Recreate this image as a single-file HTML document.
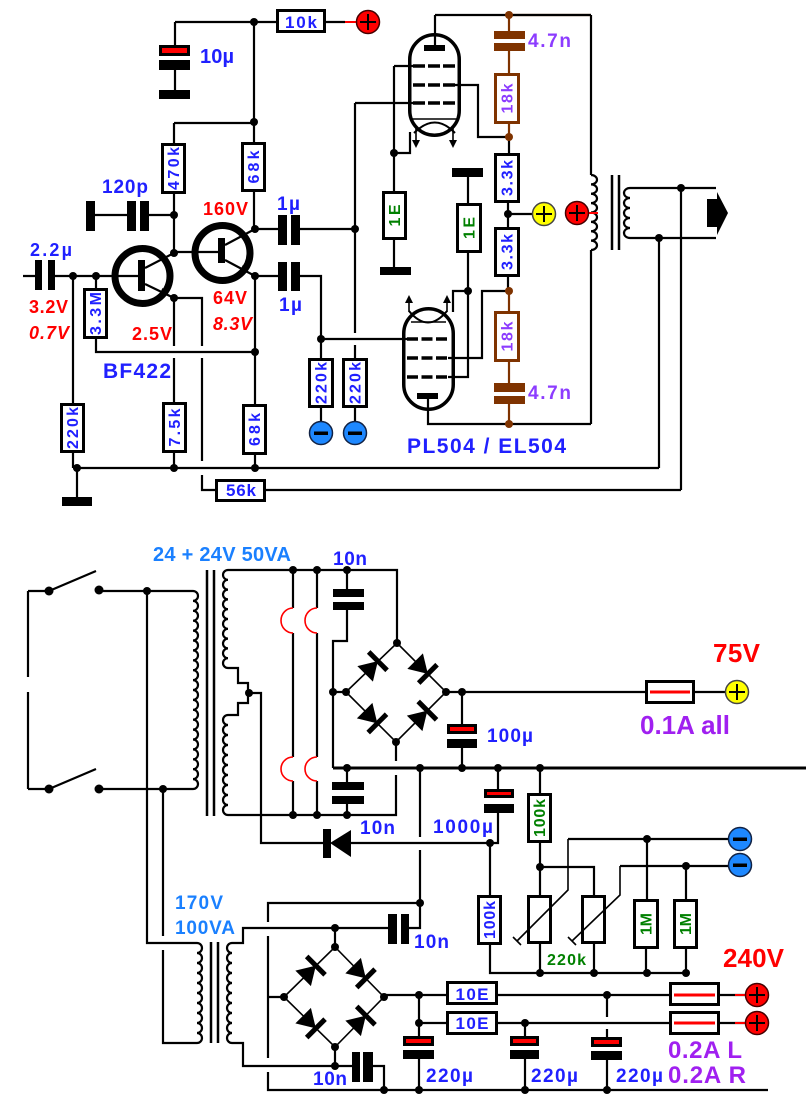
<!DOCTYPE html>
<html><head><meta charset="utf-8"><style>
html,body{margin:0;padding:0;background:#fff}
svg{display:block}
text{font-family:"Liberation Sans",sans-serif;font-weight:bold}
.w{stroke:#000;stroke-width:2.2;fill:none}
.t{stroke:#000;stroke-width:1.6;fill:none}
.k{stroke:#000;stroke-width:3;fill:none}
.r{fill:#fff;stroke:#000;stroke-width:3}
.rb{fill:#fff;stroke:#7f3300;stroke-width:3}
.br{stroke:#7f3300;stroke-width:2.2;fill:none}
.bl{fill:#2020ff}.rd{fill:#ff0000}.gr{fill:#008000}.pu{fill:#8c3cff}.pv{fill:#a020f0}.lb{fill:#1a80ff}
</style></head><body>
<svg width="806" height="1109" viewBox="0 0 806 1109" xmlns="http://www.w3.org/2000/svg">
<rect width="806" height="1109" fill="#fff"/>

<!-- ============ TOP HALF WIRES ============ -->
<path class="w" d="M175,22 H276 M326,22 H345 M175,22 V46 M175,70 V90 M254,22 V142 M174,123 H254 M174,123 V143 M174,194 V253 M95,215 H127 M149,215 H174 M254,192 V229 M254,229 H278 M300,229 H355 M355,103 V333 M355,345 V358 M355,103 H413"/>
<path d="M345,22 H357" stroke="#f00" stroke-width="2"/>
<!-- input -->
<path class="w" d="M23,276 H35 M55,276 H138 M73,276 V403 M73,453 V468 M77,468 V497 M73,468 H659 M96,276 V288 M96,339 V352 H255 M174,298 V346 M174,358 V402 M174,453 V468 M174,298 H202 V346 M202,358 V461 M202,475 V490 H215 M266,490 H681 M255,276 V404 M255,455 V468 M255,276 H278 M300,276 H321 V358 M321,339 H407"/>
<path class="w" d="M321,408 V421 M355,408 V421"/>
<!-- tubes wiring -->
<path class="w" d="M435,15 V45 M435,15 H509 M591,15 V175 M394,66 H413 M394,66 V191 M394,153 H410 V132 M394,240 V267 M455,85 H478 V137 H509 M468,177 V203 M468,253 V291 M509,137 V153 M508,203 V227 M508,214 H532 M508,277 V291 M448,358 H482 V291 H509 M448,377 H468 V291 M468,291 H453 V312 M428,399 V424 H591 M591,250 V424"/>
<path class="br" d="M509,15 H591 M509,15 V31 M509,51 V73 M509,124 V137 M509,291 V311 M509,362 V383 M509,404 V424"/>
<path class="w" d="M509,15 H591"/>
<!-- output transformer -->
<path class="w" d="M591,175 a6,4.6875 0 0 1 0,9.375 a6,4.6875 0 0 1 0,9.375 a6,4.6875 0 0 1 0,9.375 a6,4.6875 0 0 1 0,9.375 a6,4.6875 0 0 1 0,9.375 a6,4.6875 0 0 1 0,9.375 a6,4.6875 0 0 1 0,9.375 a6,4.6875 0 0 1 0,9.375"/>
<path d="M612,175 V250 M619,175 V250" stroke="#000" stroke-width="2.5"/>
<path class="w" d="M716,188 H630 a6,5 0 0 0 0,10 a6,5 0 0 0 0,10 a6,5 0 0 0 0,10 a6,5 0 0 0 0,10 a6,5 0 0 0 0,10 H716"/>
<path d="M589,213 H598" stroke="#f00" stroke-width="2"/>
<polygon points="707,199 717,199 717,192 728,213 717,235 717,227 707,227" fill="#000"/>
<path class="w" d="M681,188 V490 M659,238 V468"/>

<!-- transistors -->
<circle cx="142.5" cy="276" r="27.5" fill="none" stroke="#000" stroke-width="7"/>
<circle cx="222.5" cy="253" r="27.5" fill="none" stroke="#000" stroke-width="7"/>
<rect x="138" y="260" width="7" height="31" fill="#000"/>
<rect x="218" y="238" width="7" height="25" fill="#000"/>
<path class="w" d="M145,268 L174,253 M145,284 L174,298 M174,252 H218 M225,245 L255,229 M225,260 L255,276"/>
<polygon points="168,295 159.1,295.1 162.5,287.9" fill="#000"/>
<polygon points="248,272.3 239.1,272 242.9,265" fill="#000"/>

<!-- capacitors top -->
<rect x="160.5" y="46.5" width="28" height="8" fill="#f00" stroke="#000" stroke-width="3"/>
<rect x="159" y="60" width="31" height="10" fill="#000"/>
<rect x="159" y="90" width="31" height="9" fill="#000"/>
<rect x="86" y="201" width="9" height="30" fill="#000"/>
<rect x="127" y="201" width="9" height="30" fill="#000"/>
<rect x="140" y="201" width="9" height="30" fill="#000"/>
<rect x="278" y="215" width="9" height="30" fill="#000"/>
<rect x="291" y="215" width="9" height="30" fill="#000"/>
<rect x="278" y="262" width="9" height="29" fill="#000"/>
<rect x="291" y="262" width="9" height="29" fill="#000"/>
<rect x="35" y="260" width="7" height="30" fill="#000"/>
<rect x="48" y="260" width="7" height="30" fill="#000"/>
<rect x="62" y="497" width="30" height="9" fill="#000"/>
<rect x="380" y="267" width="31" height="8" fill="#000"/>
<rect x="452" y="168" width="31" height="9" fill="#000"/>
<rect x="494" y="31" width="31" height="8" fill="#7f3300"/>
<rect x="494" y="43" width="31" height="8" fill="#7f3300"/>
<rect x="494" y="383" width="31" height="9" fill="#7f3300"/>
<rect x="494" y="396" width="31" height="8" fill="#7f3300"/>

<!-- resistors top -->
<rect class="r" x="277.5" y="10.5" width="47" height="21"/>
<rect class="r" x="162.5" y="144.5" width="22" height="48"/>
<rect class="r" x="242.5" y="143.5" width="22" height="47"/>
<rect class="r" x="61.5" y="404.5" width="22" height="47"/>
<rect class="r" x="84.5" y="289.5" width="22" height="48"/>
<rect class="r" x="163.5" y="403.5" width="22" height="48"/>
<rect class="r" x="243.5" y="405.5" width="22" height="48"/>
<rect class="r" x="216.5" y="480.5" width="48" height="20"/>
<rect class="r" x="309.5" y="359.5" width="23" height="47"/>
<rect class="r" x="343.5" y="359.5" width="23" height="47"/>
<rect class="r" x="383.5" y="192.5" width="22" height="46"/>
<rect class="r" x="457.5" y="204.5" width="23" height="47"/>
<rect class="r" x="495.5" y="154.5" width="23" height="47"/>
<rect class="r" x="495.5" y="228.5" width="23" height="47"/>
<rect class="rb" x="495.5" y="74.5" width="23" height="48"/>
<rect class="rb" x="495.5" y="312.5" width="23" height="48"/>

<!-- tubes -->
<rect x="409.75" y="34.75" width="49.5" height="100.5" rx="24.75" fill="none" stroke="#000" stroke-width="3.5"/>
<rect x="424" y="45" width="21" height="6" fill="#000"/>
<path d="M413,66 H455 M413,85 H455 M413,103 H455" stroke="#000" stroke-width="3.5" stroke-dasharray="12,3"/>
<path class="t" d="M412,119 H457"/>
<path d="M414,133 Q435,112 455,133" fill="none" stroke="#000" stroke-width="2"/>
<path class="t" d="M416,128 V141 M453,128 V141"/>
<polygon points="412,140 420,140 416,148" fill="#000"/>
<polygon points="449,140 457,140 453,148" fill="#000"/>

<rect x="403.75" y="308.75" width="49.5" height="100.5" rx="24.75" fill="none" stroke="#000" stroke-width="3.5"/>
<rect x="417" y="393" width="21" height="6" fill="#000"/>
<path d="M407,339 H448 M407,358 H448 M407,377 H448" stroke="#000" stroke-width="3.5" stroke-dasharray="11,3.5"/>
<path d="M409,311 Q428,334 447,311" fill="none" stroke="#000" stroke-width="2"/>
<path class="t" d="M411,322 H446"/>
<path class="t" d="M409,312 V302 M447,312 V302"/>
<polygon points="405,303 413,303 409,295" fill="#000"/>
<polygon points="443,303 451,303 447,295" fill="#000"/>

<!-- top dots -->
<g fill="#000">
<circle cx="254" cy="22" r="4"/><circle cx="254" cy="122" r="4"/><circle cx="174" cy="215" r="4"/><circle cx="174" cy="253" r="4"/>
<circle cx="255" cy="229" r="4"/><circle cx="355" cy="229" r="4"/><circle cx="73" cy="276" r="4"/><circle cx="96" cy="276" r="4"/>
<circle cx="174" cy="298" r="4"/><circle cx="255" cy="276" r="4"/><circle cx="255" cy="352" r="4"/><circle cx="77" cy="468" r="4"/>
<circle cx="174" cy="468" r="4"/><circle cx="255" cy="468" r="4"/><circle cx="321" cy="339" r="4"/><circle cx="394" cy="153" r="4"/>
<circle cx="508" cy="214" r="4"/><circle cx="468" cy="291" r="4"/><circle cx="681" cy="188" r="4"/><circle cx="659" cy="238" r="4"/>
</g>
<g fill="#7f3300">
<circle cx="509" cy="15" r="4"/><circle cx="509" cy="137" r="4"/><circle cx="509" cy="291" r="4"/><circle cx="509" cy="424" r="4"/>
</g>

<!-- terminals top -->
<g stroke="#000" stroke-width="2">
<circle cx="368" cy="22" r="11.5" fill="#f00" stroke="#400" stroke-width="1.5"/><path d="M360,22 H376 M368,14 V30"/>
<circle cx="544" cy="214" r="11.5" fill="#ff0" stroke="#444" stroke-width="1.5"/><path d="M536,214 H552 M544,206 V222"/>
<circle cx="577" cy="213" r="11.5" fill="#f00" stroke="#400" stroke-width="1.5"/><path d="M569,213 H585 M577,205 V221"/>
<circle cx="321" cy="433" r="11.5" fill="#1e88ff" stroke="#124" stroke-width="1.5"/>
<circle cx="355" cy="433" r="11.5" fill="#1e88ff" stroke="#124" stroke-width="1.5"/>
</g>
<rect x="314" y="431.5" width="14" height="3.5" fill="#000"/>
<rect x="348" y="431.5" width="14" height="3.5" fill="#000"/>

<!-- top texts -->
<text x="301" y="28" font-size="17" class="bl" text-anchor="middle" textLength="32">10k</text>
<text x="200" y="63" font-size="20" class="bl" textLength="34">10µ</text>
<text x="102" y="193" font-size="19" class="bl" textLength="46">120p</text>
<text x="203" y="215" font-size="18" class="rd" textLength="45">160V</text>
<text x="277" y="210" font-size="19" class="bl" textLength="23">1µ</text>
<text x="30" y="256" font-size="18" class="bl" textLength="42">2.2µ</text>
<text x="29" y="313" font-size="18" class="rd" textLength="39">3.2V</text>
<text x="29" y="339" font-size="18" class="rd" font-style="italic" textLength="40">0.7V</text>
<text x="132" y="340" font-size="18" class="rd" textLength="40">2.5V</text>
<text x="213" y="304" font-size="18" class="rd" textLength="34">64V</text>
<text x="213" y="330" font-size="18" class="rd" font-style="italic" textLength="39">8.3V</text>
<text x="279" y="311" font-size="19" class="bl" textLength="23">1µ</text>
<text x="103" y="378" font-size="21" class="bl" textLength="68">BF422</text>
<text x="241" y="496" font-size="17" class="bl" text-anchor="middle" textLength="30">56k</text>
<text x="528" y="47" font-size="19" class="pu" textLength="43">4.7n</text>
<text x="528" y="399" font-size="19" class="pu" textLength="43">4.7n</text>
<text x="407" y="453" font-size="21" class="bl" textLength="159">PL504 / EL504</text>
<g font-size="16" text-anchor="middle">
<text transform="translate(173.5,168.5) rotate(-90)" dy="5.5" class="bl" textLength="43">470k</text>
<text transform="translate(253.5,167) rotate(-90)" dy="5.5" class="bl" textLength="33">68k</text>
<text transform="translate(95.5,313.5) rotate(-90)" dy="5.5" class="bl" textLength="43">3.3M</text>
<text transform="translate(72.5,428) rotate(-90)" dy="5.5" class="bl" textLength="42">220k</text>
<text transform="translate(174.5,427.5) rotate(-90)" dy="5.5" class="bl" textLength="38">7.5k</text>
<text transform="translate(254.5,429.5) rotate(-90)" dy="5.5" class="bl" textLength="33">68k</text>
<text transform="translate(321,383) rotate(-90)" dy="5.5" class="bl" textLength="42">220k</text>
<text transform="translate(355,383) rotate(-90)" dy="5.5" class="bl" textLength="42">220k</text>
<text transform="translate(394.5,215.5) rotate(-90)" dy="5.5" class="gr" textLength="22">1E</text>
<text transform="translate(469,228) rotate(-90)" dy="5.5" class="gr" textLength="22">1E</text>
<text transform="translate(507,178) rotate(-90)" dy="5.5" class="bl" textLength="36">3.3k</text>
<text transform="translate(507,252) rotate(-90)" dy="5.5" class="bl" textLength="36">3.3k</text>
<text transform="translate(507,98.5) rotate(-90)" dy="5.5" class="pu" textLength="30">18k</text>
<text transform="translate(507,336.5) rotate(-90)" dy="5.5" class="pu" textLength="30">18k</text>
</g>

<!-- ============ BOTTOM HALF ============ -->
<!-- switches & primary -->
<path class="w" d="M28,591 V677 M28,692 V789 M28,591 H49 M28,789 H49 M49,591 L96,571 M49,789 L96,769 M99,591 H193 M99,789 H193"/>
<path class="w" d="M193,591 a5,4.95 0 0 1 0,9.9 a5,4.95 0 0 1 0,9.9 a5,4.95 0 0 1 0,9.9 a5,4.95 0 0 1 0,9.9 a5,4.95 0 0 1 0,9.9 a5,4.95 0 0 1 0,9.9 a5,4.95 0 0 1 0,9.9 a5,4.95 0 0 1 0,9.9 a5,4.95 0 0 1 0,9.9 a5,4.95 0 0 1 0,9.9 a5,4.95 0 0 1 0,9.9 a5,4.95 0 0 1 0,9.9 a5,4.95 0 0 1 0,9.9 a5,4.95 0 0 1 0,9.9 a5,4.95 0 0 1 0,9.9 a5,4.95 0 0 1 0,9.9 a5,4.95 0 0 1 0,9.9 a5,4.95 0 0 1 0,9.9 a5,4.95 0 0 1 0,9.9 a5,4.95 0 0 1 0,9.9"/>
<path d="M207,570 V816 M214,570 V816" stroke="#000" stroke-width="2.5"/>
<path class="w" d="M397,643 V570 H228 a5,4.9 0 0 0 0,9.8 a5,4.9 0 0 0 0,9.8 a5,4.9 0 0 0 0,9.8 a5,4.9 0 0 0 0,9.8 a5,4.9 0 0 0 0,9.8 a5,4.9 0 0 0 0,9.8 a5,4.9 0 0 0 0,9.8 a5,4.9 0 0 0 0,9.8 a5,4.9 0 0 0 0,9.8 a5,4.9 0 0 0 0,9.8 H238 V683 H248 V703 H238 V715 H228 a5,5 0 0 0 0,10 a5,5 0 0 0 0,10 a5,5 0 0 0 0,10 a5,5 0 0 0 0,10 a5,5 0 0 0 0,10 a5,5 0 0 0 0,10 a5,5 0 0 0 0,10 a5,5 0 0 0 0,10 a5,5 0 0 0 0,10 a5,5 0 0 0 0,10 H396 V775"/>
<path class="w" d="M249,693 H261 V843 H324"/>
<path class="w" d="M293,570 V608 M293,633 V757 M293,781 V815 M317,570 V608 M317,633 V757 M317,781 V815"/>
<path d="M293,608 A12,12.5 0 0 0 293,633 M293,757 A12,12 0 0 0 293,781 M317,608 A12,12.5 0 0 0 317,633 M317,757 A12,12 0 0 0 317,781" fill="none" stroke="#f00" stroke-width="1.6"/>
<path class="w" d="M347,570 V589 M347,610 V641 H333 V768 M333,692 H346 M396,742 V761 M446,692 H645 M695,692 H725 M462,692 V724 M462,748 V768 M347,768 V782 M347,804 V815"/>
<path d="M333,768 H806" stroke="#000" stroke-width="3"/>
<path class="t" d="M346,692 L397,643 L446,692 L396,742 Z"/>
<!-- caps psu1 -->
<rect x="333" y="589" width="31" height="8" fill="#000"/>
<rect x="333" y="602" width="31" height="8" fill="#000"/>
<rect x="332" y="782" width="32" height="8" fill="#000"/>
<rect x="332" y="796" width="32" height="8" fill="#000"/>
<rect x="448.5" y="725.5" width="27" height="7" fill="#f00" stroke="#000" stroke-width="3"/>
<rect x="447" y="739" width="30" height="9" fill="#000"/>
<!-- fuse 0.1A -->
<rect class="r" x="646.5" y="681.5" width="47" height="21"/>
<path d="M650,692 H690" stroke="#f00" stroke-width="3"/>
<!-- diodes bridge1 -->
<g fill="#000" stroke="#000">
<g transform="translate(371.5,667.5) rotate(-45)"><polygon points="-9,-11 -9,11 9,0" stroke="none"/><line x1="9" y1="-13" x2="9" y2="13" stroke-width="5"/></g>
<g transform="translate(421.5,667.5) rotate(45)"><polygon points="-9,-11 -9,11 9,0" stroke="none"/><line x1="9" y1="-13" x2="9" y2="13" stroke-width="5"/></g>
<g transform="translate(371,717) rotate(45)"><polygon points="-9,-11 -9,11 9,0" stroke="none"/><line x1="9" y1="-13" x2="9" y2="13" stroke-width="5"/></g>
<g transform="translate(421,717) rotate(-45)"><polygon points="-9,-11 -9,11 9,0" stroke="none"/><line x1="9" y1="-13" x2="9" y2="13" stroke-width="5"/></g>
</g>

<!-- middle section -->
<path class="w" d="M420,768 V837 M420,850 V903 H268 V922 M268,936 V1058 M268,1072 V1090 H768"/>
<path class="w" d="M498,768 V789 M498,813 V843 H351 M490,843 V895 M490,945 V973 H686 M540,768 V793 M540,843 V895 M540,867 H594 V895 M540,944 V973 M594,944 V973 M568,839 H728 M647,839 V899 M646,949 V973 M620,866 H728 M686,866 V899 M686,949 V973"/>
<rect x="485.5" y="790.5" width="27" height="6" fill="#f00" stroke="#000" stroke-width="3"/>
<rect x="484" y="804" width="30" height="9" fill="#000"/>
<polygon points="351,830 351,857 330,843" fill="#000"/>
<rect x="323" y="829" width="8" height="29" fill="#000"/>
<rect class="r" x="478.5" y="896.5" width="22" height="47"/>
<rect class="r" x="528.5" y="794.5" width="22" height="47"/>
<rect class="r" x="528.5" y="896.5" width="22" height="46"/>
<rect class="r" x="582.5" y="896.5" width="22" height="46"/>
<rect class="r" x="634.5" y="900.5" width="23" height="47"/>
<rect class="r" x="674.5" y="900.5" width="22" height="47"/>
<path class="t" d="M568,839 V890 L517,941 M513,937 L521,945 M620,866 V895 L572,941 M568,937 L576,945" stroke-width="1.8"/>

<!-- transformer 2 -->
<path class="w" d="M147,591 V943 H197 M197,1043 H163 V950 M163,936 V789"/>
<path class="w" d="M197,943 a5,5 0 0 1 0,10 a5,5 0 0 1 0,10 a5,5 0 0 1 0,10 a5,5 0 0 1 0,10 a5,5 0 0 1 0,10 a5,5 0 0 1 0,10 a5,5 0 0 1 0,10 a5,5 0 0 1 0,10 a5,5 0 0 1 0,10 a5,5 0 0 1 0,10"/>
<path d="M211,942 V1043 M218,942 V1043" stroke="#000" stroke-width="2.5"/>
<path class="w" d="M388,928 H243 V943 H232 a5,5 0 0 0 0,10 a5,5 0 0 0 0,10 a5,5 0 0 0 0,10 a5,5 0 0 0 0,10 a5,5 0 0 0 0,10 a5,5 0 0 0 0,10 a5,5 0 0 0 0,10 a5,5 0 0 0 0,10 a5,5 0 0 0 0,10 a5,5 0 0 0 0,10 H243 V1066 H352"/>
<rect x="388" y="914" width="9" height="30" fill="#000"/>
<rect x="401" y="914" width="8" height="30" fill="#000"/>
<path class="w" d="M409,928 H420 V903 M335,928 V947 M268,997 H284 M335,1047 V1066 M373,1066 H384 V1090"/>
<rect x="352" y="1052" width="8" height="30" fill="#000"/>
<rect x="363" y="1052" width="10" height="30" fill="#000"/>
<path class="t" d="M284,997 L335,947 L384,997 L335,1047 Z"/>
<g fill="#000" stroke="#000">
<g transform="translate(309.5,972) rotate(-45)"><polygon points="-9,-11 -9,11 9,0" stroke="none"/><line x1="9" y1="-13" x2="9" y2="13" stroke-width="5"/></g>
<g transform="translate(359.5,972) rotate(45)"><polygon points="-9,-11 -9,11 9,0" stroke="none"/><line x1="9" y1="-13" x2="9" y2="13" stroke-width="5"/></g>
<g transform="translate(309.5,1022) rotate(45)"><polygon points="-9,-11 -9,11 9,0" stroke="none"/><line x1="9" y1="-13" x2="9" y2="13" stroke-width="5"/></g>
<g transform="translate(359.5,1022) rotate(-45)"><polygon points="-9,-11 -9,11 9,0" stroke="none"/><line x1="9" y1="-13" x2="9" y2="13" stroke-width="5"/></g>
</g>
<!-- outputs 240V -->
<path class="w" d="M384,995 H446 M419,995 V1036 M419,1023 H446 M498,995 H669 M720,995 H745 M498,1023 H669 M720,1023 H745 M607,995 V1017 M607,1029 V1037 M525,1023 V1036 M419,1059 V1090 M525,1059 V1090 M607,1060 V1090"/>
<rect class="r" x="447.5" y="982.5" width="49" height="21"/>
<rect class="r" x="447.5" y="1012.5" width="49" height="21"/>
<rect class="r" x="670.5" y="983.5" width="48" height="21"/>
<rect class="r" x="670.5" y="1012.5" width="48" height="21"/>
<path d="M674,995 H715 M674,1023 H715" stroke="#f00" stroke-width="3"/>
<path d="M735,995 H745 M735,1023 H745" stroke="#f00" stroke-width="2"/>
<rect x="404.5" y="1037.5" width="28" height="7" fill="#f00" stroke="#000" stroke-width="3"/>
<rect x="403" y="1050" width="31" height="9" fill="#000"/>
<rect x="511.5" y="1037.5" width="26" height="7" fill="#f00" stroke="#000" stroke-width="3"/>
<rect x="510" y="1050" width="29" height="9" fill="#000"/>
<rect x="592.5" y="1038.5" width="28" height="7" fill="#f00" stroke="#000" stroke-width="3"/>
<rect x="591" y="1051" width="31" height="9" fill="#000"/>

<!-- bottom dots -->
<g fill="#000">
<circle cx="49" cy="591" r="4.5"/><circle cx="99" cy="590" r="4.5"/><circle cx="49" cy="789" r="4.5"/><circle cx="99" cy="789" r="4.5"/>
<circle cx="147" cy="591" r="4"/><circle cx="163" cy="789" r="4"/><circle cx="249" cy="693" r="4"/>
<circle cx="293" cy="570" r="4"/><circle cx="317" cy="570" r="4"/><circle cx="347" cy="570" r="4"/><circle cx="397" cy="643" r="4"/>
<circle cx="333" cy="692" r="4"/><circle cx="346" cy="692" r="4"/><circle cx="446" cy="692" r="4"/><circle cx="462" cy="692" r="4"/><circle cx="396" cy="742" r="4"/>
<circle cx="347" cy="768" r="4"/><circle cx="420" cy="768" r="4"/><circle cx="462" cy="768" r="4"/><circle cx="498" cy="768" r="4"/><circle cx="540" cy="768" r="4"/>
<circle cx="293" cy="815" r="4"/><circle cx="317" cy="815" r="4"/><circle cx="347" cy="815" r="4"/>
<circle cx="490" cy="843" r="4"/><circle cx="540" cy="867" r="4"/><circle cx="647" cy="839" r="4"/><circle cx="686" cy="866" r="4"/>
<circle cx="540" cy="973" r="4"/><circle cx="594" cy="973" r="4"/><circle cx="647" cy="973" r="4"/><circle cx="686" cy="973" r="4"/>
<circle cx="420" cy="903" r="4"/><circle cx="335" cy="928" r="4"/><circle cx="335" cy="947" r="4"/><circle cx="284" cy="997" r="4"/><circle cx="384" cy="997" r="4"/>
<circle cx="335" cy="1047" r="4"/><circle cx="335" cy="1066" r="4"/><circle cx="384" cy="1090" r="4"/>
<circle cx="419" cy="995" r="4"/><circle cx="419" cy="1023" r="4"/><circle cx="525" cy="1023" r="4"/><circle cx="607" cy="995" r="4"/>
<circle cx="419" cy="1090" r="4"/><circle cx="525" cy="1090" r="4"/><circle cx="607" cy="1090" r="4"/>
</g>

<!-- bottom terminals -->
<g stroke="#000" stroke-width="2">
<circle cx="737" cy="692" r="11.5" fill="#ff0" stroke="#444" stroke-width="1.5"/><path d="M729,692 H745 M737,684 V700"/>
<circle cx="757" cy="995" r="11.5" fill="#f00" stroke="#400" stroke-width="1.5"/><path d="M749,995 H765 M757,987 V1003"/>
<circle cx="757" cy="1023" r="11.5" fill="#f00" stroke="#400" stroke-width="1.5"/><path d="M749,1023 H765 M757,1015 V1031"/>
<circle cx="740" cy="839" r="11.5" fill="#1e88ff" stroke="#124" stroke-width="1.5"/>
<circle cx="740" cy="865" r="11.5" fill="#1e88ff" stroke="#124" stroke-width="1.5"/>
</g>
<rect x="733" y="837.5" width="14" height="3.5" fill="#000"/>
<rect x="733" y="863.5" width="14" height="3.5" fill="#000"/>

<!-- bottom texts -->
<text x="153" y="561" font-size="20" class="lb" textLength="138">24 + 24V 50VA</text>
<text x="333" y="565" font-size="19" class="bl" textLength="34">10n</text>
<text x="713" y="662" font-size="26" class="rd" textLength="47">75V</text>
<text x="640" y="734" font-size="26" class="pv" textLength="90">0.1A all</text>
<text x="487" y="742" font-size="19" class="bl" textLength="46">100µ</text>
<text x="433" y="833" font-size="19" class="bl" textLength="60">1000µ</text>
<text x="360" y="834" font-size="19" class="bl" textLength="35">10n</text>
<text x="175" y="909" font-size="19" class="lb" textLength="48">170V</text>
<text x="175" y="934" font-size="19" class="lb" textLength="60">100VA</text>
<text x="414" y="948" font-size="19" class="bl" textLength="35">10n</text>
<text x="313" y="1085" font-size="19" class="bl" textLength="34">10n</text>
<text x="547" y="965" font-size="16" class="gr" textLength="39">220k</text>
<text x="723" y="967" font-size="26" class="rd" textLength="61">240V</text>
<text x="426" y="1082" font-size="19" class="bl" textLength="47">220µ</text>
<text x="531" y="1082" font-size="19" class="bl" textLength="47">220µ</text>
<text x="616" y="1082" font-size="19" class="bl" textLength="47">220µ</text>
<text x="668" y="1058" font-size="24" class="pv" textLength="74">0.2A L</text>
<text x="668" y="1083" font-size="24" class="pv" textLength="78">0.2A R</text>
<text x="472" y="1000" font-size="17" class="bl" text-anchor="middle" textLength="33">10E</text>
<text x="472" y="1029" font-size="17" class="bl" text-anchor="middle" textLength="33">10E</text>
<g font-size="16" text-anchor="middle">
<text transform="translate(539.5,818) rotate(-90)" dy="5.5" class="gr" textLength="38">100k</text>
<text transform="translate(489.5,920) rotate(-90)" dy="5.5" class="bl" textLength="38">100k</text>
<text transform="translate(646,924) rotate(-90)" dy="5.5" class="gr" textLength="22">1M</text>
<text transform="translate(685.5,924) rotate(-90)" dy="5.5" class="gr" textLength="22">1M</text>
</g>
</svg>
</body></html>
